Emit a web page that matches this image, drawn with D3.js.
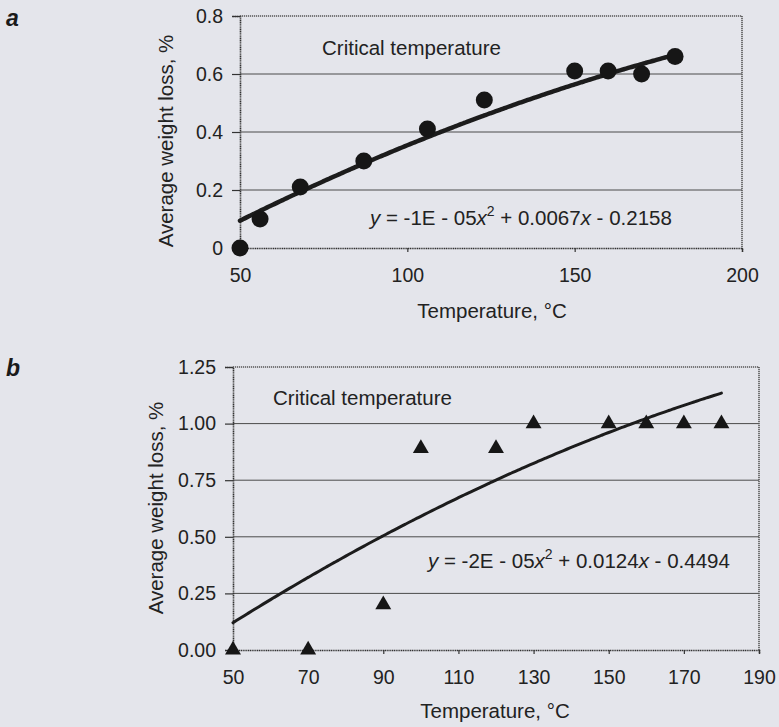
<!DOCTYPE html>
<html>
<head>
<meta charset="utf-8">
<script src="https://d3js.org/d3.v7.min.js"></script>
<style>
  body { margin: 0; background: #e4e5eb; }
  svg { display: block; font-family: "Liberation Sans", Arial, sans-serif; }
  .tick text { font-size: 19.5px; fill: #222; }
</style>
</head>
<body>
<svg id="chart" width="779" height="727"></svg>
<script>
// panel a: weight loss (circles)
var tempA = [50, 56, 68, 87, 106, 123, 150, 160, 170, 180];
var lossA = [0, 0.10, 0.21, 0.30, 0.41, 0.51, 0.61, 0.61, 0.60, 0.66];
var coefA = [-0.00001, 0.0067, -0.2158];   // trendline, x^2, x, c
var xTicksA = [50, 100, 150, 200];
var yTicksA = [0, 0.2, 0.4, 0.6, 0.8];

// panel b: weight loss (triangles)
var tempB = [50, 70, 90, 100, 120, 130, 150, 160, 170, 180];
var lossB = [0, 0, 0.20, 0.89, 0.89, 1.0, 1.0, 1.0, 1.0, 1.0];
var coefB = [-0.00002, 0.0124, -0.4494];
var xTicksB = [50, 70, 90, 110, 130, 150, 170, 190];
var yTicksB = [0, 0.25, 0.5, 0.75, 1.0, 1.25];

var svg = d3.select("#chart");

function drawPanel(p) {
    var g = svg.append("g");
    var x = d3.scaleLinear().domain(p.xDomain).range([p.left, p.right]);
    var y = d3.scaleLinear().domain(p.yDomain).range([p.bottom, p.top]);

    // gridlines
    g.append("g").selectAll("line")
        .data(p.yTicks.slice(1, -1))
        .enter().append("line")
        .attr("x1", p.left).attr("x2", p.right)
        .attr("y1", function(d) { return y(d); })
        .attr("y2", function(d) { return y(d); })
        .attr("stroke", "#4a4a4a")
        .attr("stroke-width", 1);

    // frame (grainy top/right)
    g.append("path")
        .attr("d", "M" + p.left + "," + p.top + "H" + p.right + "V" + p.bottom)
        .attr("fill", "none")
        .attr("stroke", "#555")
        .attr("stroke-width", 1.6)
        .attr("stroke-dasharray", "1.2,0.8");

    var yAxis = d3.axisLeft(y).tickValues(p.yTicks).tickFormat(d3.format(p.yFormat))
        .tickSize(8).tickPadding(9);
    var ya = g.append("g").attr("transform", "translate(" + p.left + ",0)").call(yAxis);
    var xAxis = d3.axisBottom(x).tickValues(p.xTicks).tickSize(4).tickPadding(16);
    var xa = g.append("g").attr("transform", "translate(0," + p.bottom + ")").call(xAxis);
    [ya, xa].forEach(function(a) {
        a.select(".domain").attr("stroke", "#333").attr("stroke-width", 1.6)
            .attr("stroke-dasharray", "1.2,0.6");
        a.selectAll(".tick line").attr("stroke", "#333").attr("stroke-width", 1.2);
    });

    // trendline from the printed equation
    var c = p.coef;
    var xs = d3.range(p.fitFrom, p.fitTo + 0.5, 1);
    var line = d3.line()
        .x(function(d) { return x(d); })
        .y(function(d) { return y(c[0] * d * d + c[1] * d + c[2]); })
        .curve(d3.curveMonotoneX);
    g.append("path").datum(xs)
        .attr("d", line)
        .attr("fill", "none")
        .attr("stroke", "#1c1c1c")
        .attr("stroke-width", p.lineWidth)
        .attr("stroke-linecap", "round");

    // points
    var pts = p.temps.map(function(t, i) { return { t: t, v: p.values[i] }; });
    if (p.marker === "circle") {
        g.append("g").selectAll("circle")
            .data(pts).enter().append("circle")
            .attr("cx", function(d) { return x(d.t); })
            .attr("cy", function(d) { return y(d.v); })
            .attr("r", 8.5)
            .attr("fill", "#161616");
    } else {
        g.append("g").selectAll("path")
            .data(pts).enter().append("path")
            .attr("d", d3.symbol().type(d3.symbolTriangle).size(110))
            .attr("transform", function(d) { return "translate(" + x(d.t) + "," + y(d.v) + ")"; })
            .attr("fill", "#161616");
    }

    // texts
    g.append("text")
        .attr("x", p.letterX).attr("y", p.letterY)
        .attr("font-size", 23).attr("font-weight", "bold").attr("font-style", "italic")
        .attr("fill", "#1a1a1a")
        .text(p.letter);

    g.append("text")
        .attr("x", p.critX).attr("y", p.critY)
        .attr("font-size", 20.5).attr("fill", "#222")
        .text("Critical temperature");

    var eq = g.append("text")
        .attr("x", p.eqX).attr("y", p.eqY)
        .attr("font-size", 20.5).attr("fill", "#222");
    eq.append("tspan").attr("font-style", "italic").text("y");
    eq.append("tspan").text(" = " + p.eqParts[0]);
    eq.append("tspan").attr("font-style", "italic").text("x");
    eq.append("tspan").attr("font-size", 14).attr("dy", -9).text("2");
    eq.append("tspan").attr("dy", 9).text(" + " + p.eqParts[1]);
    eq.append("tspan").attr("font-style", "italic").text("x");
    eq.append("tspan").text(" - " + p.eqParts[2]);

    g.append("text")
        .attr("x", p.xTitleX).attr("y", p.xTitleY)
        .attr("text-anchor", "middle")
        .attr("font-size", 20.5).attr("fill", "#222")
        .text("Temperature, °C");

    g.append("text")
        .attr("transform", "translate(" + p.yTitleX + "," + p.yTitleY + ") rotate(-90)")
        .attr("text-anchor", "middle")
        .attr("font-size", 20.5).attr("fill", "#222")
        .text("Average weight loss, %");
}

drawPanel({
    left: 240, right: 742, top: 16, bottom: 248,
    xDomain: [50, 200], yDomain: [0, 0.8],
    xTicks: xTicksA, yTicks: yTicksA, yFormat: ".1~f",
    temps: tempA, values: lossA, coef: coefA, fitFrom: 50, fitTo: 180,
    marker: "circle", lineWidth: 4.5,
    letter: "a", letterX: 6, letterY: 26,
    critX: 322, critY: 55,
    eqX: 370, eqY: 225, eqParts: ["-1E - 05", "0.0067", "0.2158"],
    xTitleX: 492, xTitleY: 318,
    yTitleX: 173, yTitleY: 141
});

drawPanel({
    left: 233, right: 759, top: 367, bottom: 650,
    xDomain: [50, 190], yDomain: [0, 1.25],
    xTicks: xTicksB, yTicks: yTicksB, yFormat: ".2f",
    temps: tempB, values: lossB, coef: coefB, fitFrom: 50, fitTo: 180,
    marker: "triangle", lineWidth: 3,
    letter: "b", letterX: 6, letterY: 376,
    critX: 273, critY: 405,
    eqX: 428, eqY: 568, eqParts: ["-2E - 05", "0.0124", "0.4494"],
    xTitleX: 495, xTitleY: 718,
    yTitleX: 163, yTitleY: 508
});
</script>
</body>
</html>
